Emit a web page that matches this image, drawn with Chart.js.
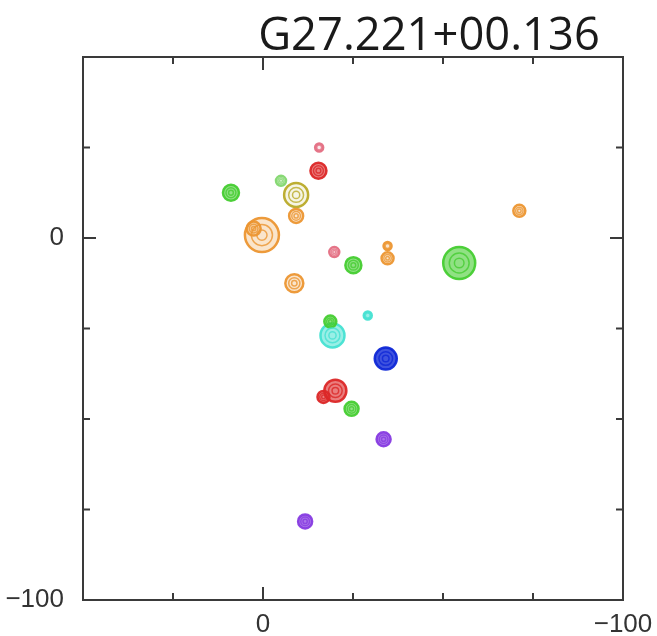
<!DOCTYPE html>
<html>
<head>
<meta charset="utf-8">
<style>
  html, body { margin: 0; padding: 0; background: #fff; }
  #wrap { width: 657px; height: 636px; }
</style>
<script src="https://cdn.jsdelivr.net/npm/chart.js@4"></script>
</head>
<body>
<div id="wrap"><canvas id="spotMap" width="657" height="636"></canvas></div>
<script>
// Maser spot positions (x, y offsets) and spot size, one list per velocity colour
const redWeakSpots = [[-15.6, 25.0, 4], [-19.8, -3.9, 5]];
const redSpots = [[-15.4, 18.6, 8], [-20.1, -42.2, 11], [-16.8, -43.9, 6]];
const orangeSpots = [
    [-9.2, 6.1, 7], [0.3, 0.8, 17], [2.6, 2.6, 7], [-71.2, 7.5, 6],
    [-34.6, -2.2, 4], [-34.6, -5.6, 6], [-8.7, -12.5, 9]
];
const oliveSpots = [[-9.2, 11.9, 12]];
const paleGreenSpots = [[-5.0, 15.8, 5]];
const greenSpots = [[8.9, 12.5, 8], [-25.1, -7.5, 8], [-54.5, -6.9, 16], [-18.7, -23.1, 6], [-24.6, -47.2, 7]];
const cyanSpots = [[-19.3, -26.9, 12], [-29.1, -21.4, 4]];
const blueSpots = [[-34.1, -33.3, 11]];
const purpleSpots = [[-33.5, -55.6, 7], [-11.7, -78.3, 7]];

// Axis ticks
const tickStep = 25;
const labelledTicks = [0, -100];

const groups = [
    { name: 'pink', spots: redWeakSpots, rgb: '228,110,130', fill: 0.15 },
    { name: 'orange', spots: orangeSpots, rgb: '236,150,50', fill: 0.25 },
    { name: 'olive', spots: oliveSpots, rgb: '185,170,40', fill: 0.12 },
    { name: 'pale green', spots: paleGreenSpots, rgb: '130,215,110', fill: 0.08 },
    { name: 'green', spots: greenSpots, rgb: '70,205,50', fill: 0.6 },
    { name: 'cyan', spots: cyanSpots, rgb: '70,225,210', fill: 0.55 },
    { name: 'blue', spots: blueSpots, rgb: '15,40,215', fill: 0.8 },
    { name: 'red', spots: redSpots, rgb: '220,40,40', fill: 0.6 },
    { name: 'purple', spots: purpleSpots, rgb: '135,60,225', fill: 0.7 }
];

const datasets = groups.map(g => ({
    label: g.name,
    data: g.spots.map(s => ({ x: s[0], y: s[1], r: s[2] })),
    borderColor: `rgba(${g.rgb},0.95)`,
    backgroundColor: `rgba(${g.rgb},${g.fill})`,
    borderWidth: 2.5,
    contourColor: `rgba(${g.rgb},0.8)`
}));

// inner contour rings inside every spot, drawn a little soft
const contours = {
    id: 'contours',
    beforeDatasetsDraw(chart) {
        chart.ctx.save();
        chart.ctx.filter = 'blur(0.35px)';
    },
    afterDatasetsDraw(chart) {
        const ctx = chart.ctx;
        chart.data.datasets.forEach((ds, i) => {
            chart.getDatasetMeta(i).data.forEach(el => {
                const r = el.options.radius;
                ctx.strokeStyle = ds.contourColor;
                ctx.lineWidth = 1.5;
                [0.62, 0.3].forEach(f => {
                    if (r * f < 1.5) return;
                    ctx.beginPath();
                    ctx.arc(el.x, el.y, r * f, 0, Math.PI * 2);
                    ctx.stroke();
                });
            });
        });
        ctx.restore();
    }
};

// plot frame with inward tick marks on all four sides
const frame = {
    id: 'frame',
    afterDraw(chart) {
        const { ctx, chartArea: a, scales } = chart;
        ctx.save();
        ctx.strokeStyle = '#3a3a3a';
        ctx.lineWidth = 2;
        ctx.strokeRect(a.left, a.top, a.right - a.left, a.bottom - a.top);
        scales.x.ticks.forEach(t => {
            const px = scales.x.getPixelForValue(t.value);
            const len = t.value === 0 ? 13 : 7;
            ctx.beginPath();
            ctx.moveTo(px, a.bottom); ctx.lineTo(px, a.bottom - len);
            ctx.moveTo(px, a.top); ctx.lineTo(px, a.top + len);
            ctx.stroke();
        });
        scales.y.ticks.forEach(t => {
            const py = scales.y.getPixelForValue(t.value);
            const len = t.value === 0 ? 13 : 7;
            ctx.beginPath();
            ctx.moveTo(a.left, py); ctx.lineTo(a.left + len, py);
            ctx.moveTo(a.right, py); ctx.lineTo(a.right - len, py);
            ctx.stroke();
        });
        // source name above the map, stretched to span 342px
        const name = 'G27.221+00.136';
        ctx.fillStyle = '#1a1a1a';
        ctx.font = '40px "Open Sans", "Noto Sans", sans-serif';
        const size = 40 * 342 / ctx.measureText(name).width;
        ctx.font = `${size.toFixed(1)}px "Open Sans", "Noto Sans", sans-serif`;
        ctx.textAlign = 'center';
        ctx.textBaseline = 'alphabetic';
        ctx.fillText(name, 429, 50);
        ctx.restore();
    }
};

const tickLabel = v => labelledTicks.includes(v) ? (v < 0 ? '\u2212' + Math.abs(v) : String(v)) : '';
const tickFont = { family: '"Liberation Sans", Arial, sans-serif', size: 26 };

new Chart(document.getElementById('spotMap'), {
    type: 'bubble',
    data: { datasets },
    options: {
        responsive: false,
        animation: false,
        layout: { autoPadding: false, padding: { top: 57, right: 34, left: 0, bottom: 0 } },
        plugins: { legend: { display: false }, tooltip: { enabled: false } },
        scales: {
            x: {
                type: 'linear',
                reverse: true,
                min: -100,
                max: 50,
                grid: { display: false, drawTicks: false },
                border: { display: false },
                ticks: {
                    stepSize: tickStep,
                    autoSkip: false,
                    maxRotation: 0,
                    padding: 9,
                    color: '#333',
                    font: tickFont,
                    callback: tickLabel
                },
                afterFit(scale) {
                    scale.height = 36;
                    scale.paddingLeft = 0;
                    scale.paddingRight = 0;
                }
            },
            y: {
                type: 'linear',
                min: -100,
                max: 50,
                grid: { display: false, drawTicks: false },
                border: { display: false },
                ticks: {
                    stepSize: tickStep,
                    autoSkip: false,
                    padding: 19,
                    color: '#333',
                    font: tickFont,
                    callback: tickLabel
                },
                afterFit(scale) {
                    scale.width = 83;
                    scale.paddingTop = 0;
                    scale.paddingBottom = 0;
                }
            }
        }
    },
    plugins: [contours, frame]
});
</script>
</body>
</html>
